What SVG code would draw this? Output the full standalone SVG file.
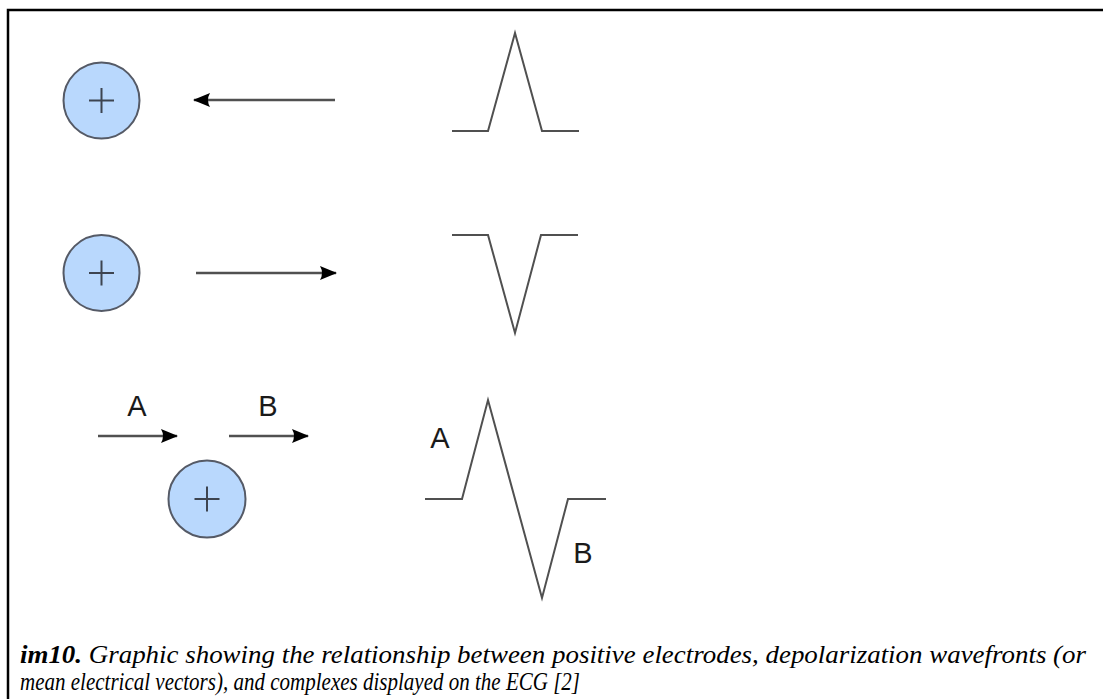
<svg xmlns="http://www.w3.org/2000/svg" width="1103" height="699" viewBox="0 0 1103 699">
<defs>
<style>
.el{fill:#b9d8fd;stroke:#555a66;stroke-width:2}
.plus{stroke:#3d4450;stroke-width:2;fill:none}
.ln{stroke:#505050;stroke-width:2.5;fill:none}
.wave{stroke:#505050;stroke-width:2;fill:none;stroke-linejoin:miter}
.lbl{font-family:"Liberation Sans",Arial,sans-serif;font-size:29px;fill:#1a1a1a;text-anchor:middle}
.cap{font-family:"Liberation Serif","Times New Roman",serif;font-size:26px;font-style:italic;fill:#000}
</style>
<marker id="ah" viewBox="0 0 17 14" refX="16" refY="7" markerWidth="17" markerHeight="14" markerUnits="userSpaceOnUse" orient="auto">
<path d="M0,0 L17,7 L0,14 Q4,7 0,0 z" fill="#000"/>
</marker>
</defs>
<rect width="1103" height="699" fill="#fff"/>
<path d="M8,699 V10 H1103" fill="none" stroke="#000" stroke-width="2.5"/>

<g id="electrode1">
<circle class="el" cx="101.5" cy="100.5" r="38"/>
<path class="plus" d="M89,100.5 H114 M101.5,88 V113"/>
</g>
<g id="electrode2">
<circle class="el" cx="101.5" cy="273" r="38"/>
<path class="plus" d="M89,273 H114 M101.5,260.5 V285.5"/>
</g>
<g id="electrode3">
<circle class="el" cx="207" cy="499" r="38.5"/>
<path class="plus" d="M194.5,499 H219.5 M207,486.5 V511.5"/>
</g>

<g id="connectors">
<path class="ln" d="M335,100 H194" marker-end="url(#ah)"/>
<path class="ln" d="M196,273 H336" marker-end="url(#ah)"/>
<path class="ln" d="M98,436 H177" marker-end="url(#ah)"/>
<path class="ln" d="M229,436 H308" marker-end="url(#ah)"/>
</g>

<g id="labels">
<text class="lbl" x="137" y="416">A</text>
<text class="lbl" x="268" y="416">B</text>
<text class="lbl" x="440" y="448">A</text>
<text class="lbl" x="583" y="563">B</text>
</g>

<g id="wave1">
<path class="wave" d="M452,131 H488 L515,33 L542,131 H579"/>
</g>
<g id="wave2">
<path class="wave" d="M452,235 H488 L515,333 L541,235 H578"/>
</g>
<g id="wave3">
<path class="wave" d="M425,499 H462 L488,400 L542,598 L568,499 H606"/>
</g>

<g id="caption">
<text class="cap" x="20" y="663" textLength="1066" lengthAdjust="spacingAndGlyphs"><tspan font-weight="bold">im10.</tspan> Graphic showing the relationship between positive electrodes, depolarization wavefronts (or</text>
<text class="cap" x="20" y="690" textLength="560" lengthAdjust="spacingAndGlyphs">mean electrical vectors), and complexes displayed on the ECG [2]</text>
</g>
</svg>
